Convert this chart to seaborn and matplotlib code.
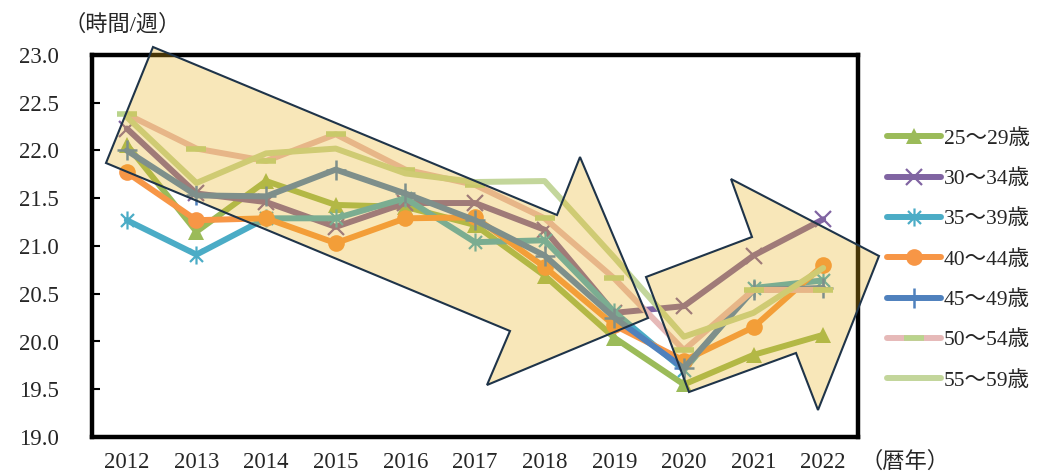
import numpy as np
import pandas as pd
import matplotlib
matplotlib.use("Agg")
import matplotlib.pyplot as plt
from matplotlib.patches import Polygon
from matplotlib.path import Path
import seaborn as sns

# データ（週当たり労働時間、年齢階級別）
years = ["2012", "2013", "2014", "2015", "2016", "2017", "2018", "2019", "2020", "2021", "2022"]
age_groups = ["25～29歳", "30～34歳", "35～39歳", "40～44歳", "45～49歳", "50～54歳", "55～59歳"]

h_25_29 = [22.06, 21.15, 21.68, 21.43, 21.41, 21.22, 20.69, 20.04, 19.55, 19.86, 20.07]
h_30_34 = [22.23, 21.55, 21.46, 21.20, 21.45, 21.45, 21.17, 20.30, 20.37, 20.90, 21.28]
h_35_39 = [21.27, 20.91, 21.29, 21.29, 21.50, 21.04, 21.06, 20.31, 19.70, 20.56, 20.64]
h_40_44 = [21.77, 21.27, 21.29, 21.03, 21.29, 21.30, 20.78, 20.17, 19.80, 20.15, 20.80]
h_45_49 = [22.00, 21.53, 21.52, 21.80, 21.55, 21.27, 20.90, 20.25, 19.72, 20.54, 20.56]
h_50_54 = [22.38, 22.02, 21.89, 22.17, 21.80, 21.64, 21.29, 20.66, 19.91, 20.54, 20.54]
h_55_59 = [22.35, 21.66, 21.97, 22.02, 21.76, 21.67, 21.68, 20.88, 20.05, 20.30, 20.77]

series = [h_25_29, h_30_34, h_35_39, h_40_44, h_45_49, h_50_54, h_55_59]

# スタイル
colors = ["#9BBB59", "#8064A2", "#4BACC6", "#F79646", "#4F81BD", "#E6B9B8", "#C3D69B"]

asterisk = Path(
    [(0, -1), (0, 1), (-0.72, -0.72), (0.72, 0.72), (-0.72, 0.72), (0.72, -0.72)],
    [Path.MOVETO, Path.LINETO] * 3,
)
marker_styles = [
    dict(marker="^", markersize=12, markeredgewidth=0),
    dict(marker="x", markersize=12, markeredgewidth=1.6),
    dict(marker=asterisk, markersize=13, markeredgewidth=1.6),
    dict(marker="o", markersize=12, markeredgewidth=0),
    dict(marker="+", markersize=14, markeredgewidth=1.8),
    dict(marker="_", markersize=14, markeredgewidth=4.0),
    dict(marker=None),
]
marker_colors = colors[:5] + ["#B9D48C", colors[6]]

# 矢印（図のピクセル座標）
arrow_down_px = [(153, 47), (557, 215), (580, 157), (648, 318), (487, 385), (510, 331), (106, 163)]
arrow_up_px = [(646, 277), (752, 237), (731, 179), (879, 256), (818, 410), (796, 353), (689, 392)]

df = pd.DataFrame({
    "x": np.tile(np.arange(len(years)), len(age_groups)),
    "hours": np.concatenate(series),
    "group": np.repeat(age_groups, len(years)),
})

sns.set_theme(style="white")
plt.rcParams["font.family"] = ["Liberation Serif", "Noto Sans CJK JP"]

W, H = 1041, 474
fig = plt.figure(figsize=(W / 100, H / 100), dpi=100)
ax = fig.add_axes([92 / W, 1 - 437 / H, (858 - 92) / W, (437 - 55) / H])

for grp, col, mcol, ms in zip(age_groups, colors, marker_colors, marker_styles):
    sub = df[df["group"] == grp]
    kw = dict(ms)
    if kw.get("marker") is not None:
        kw["markerfacecolor"] = mcol
        kw["markeredgecolor"] = mcol
    sns.lineplot(data=sub, x="x", y="hours", ax=ax, color=col, linewidth=4.3,
                 errorbar=None, sort=False, label=grp,
                 solid_capstyle="round", solid_joinstyle="round", **kw)

ax.set_xlim(-0.5, len(years) - 0.5)
ax.set_ylim(19.0, 23.0)
ax.set_yticks(np.arange(19.0, 23.01, 0.5))
ax.set_yticklabels([f"{v:.1f}" for v in np.arange(19.0, 23.01, 0.5)])
ax.set_xticks(np.arange(len(years)))
ax.set_xticklabels(years)
ax.set_xticks(np.arange(len(years) - 1) + 0.5, minor=True)
ax.tick_params(axis="x", which="major", length=0, pad=11, labelsize=16.5)
ax.tick_params(axis="x", which="minor", direction="in", length=6, width=1.5, color="black")
ax.tick_params(axis="y", direction="in", length=6, width=1.5, color="black", pad=24, labelsize=16.5)
ax.tick_params(left=True)
ax.set_xlabel("")
ax.set_ylabel("")
for sp in ax.spines.values():
    sp.set_visible(True)
    sp.set_color("black")
    sp.set_linewidth(3.2)

# 矢印の重ね描き
for verts in (arrow_down_px, arrow_up_px):
    pts = [(px / W, 1 - py / H) for px, py in verts]
    poly = Polygon(pts, closed=True, transform=fig.transFigure,
                   facecolor=(235 / 255, 178 / 255, 25 / 255, 0.3),
                   edgecolor="#1F3449", linewidth=1.5, zorder=10, clip_on=False)
    ax.add_patch(poly)

ax.legend_.remove()
handles, labels = ax.get_legend_handles_labels()
fig.legend(handles, labels, loc="center left", bbox_to_anchor=(876 / W, 0.452),
           frameon=False, fontsize=15.5, handlelength=2.5, handletextpad=0.15,
           labelspacing=0.94, borderpad=0)

fig.text(122 / W, 1 - 25 / H, "（時間/週）", ha="center", va="center", fontsize=16)
fig.text(905 / W, 1 - 462 / H, "（暦年）", ha="center", va="center", fontsize=16)

fig.savefig("out.png", dpi=100)
